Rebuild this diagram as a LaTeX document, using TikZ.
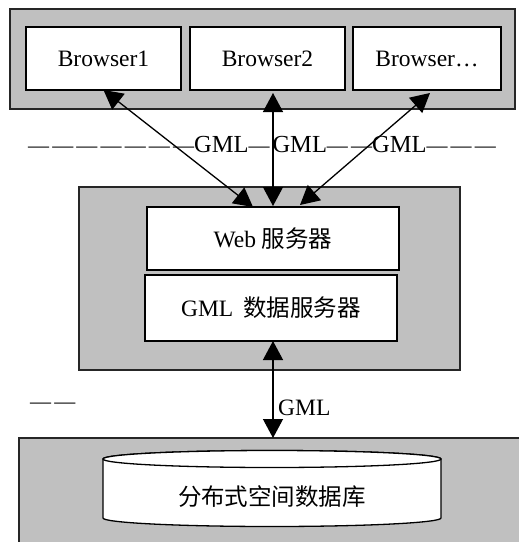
\documentclass[tikz,border=0pt]{standalone}
\usepackage{fontspec}
\setmainfont{Liberation Serif}
\newfontfamily\cjk{Noto Sans CJK SC}
\newfontfamily\dashfont[LetterSpace=15]{Liberation Serif}
\newcommand\dsh[1]{{\dashfont\fontsize{21}{27}\selectfont #1}}
\newcommand\gmlw{{\fontsize{24.5}{27}\selectfont GML}}
\usetikzlibrary{arrows.meta,calc}
\definecolor{boxgray}{HTML}{C0C0C0}
\begin{document}
\begin{tikzpicture}[x=1pt,y=-1pt,
  graybox/.style={draw=black!85, fill=boxgray, line width=1.5pt, inner sep=0pt, outer sep=0pt},
  whitebox/.style={draw=black, fill=white, line width=1.5pt, inner sep=0pt, outer sep=0pt, font=\fontsize{23.5}{27}\selectfont},
  link/.style={line width=1.3pt, {Triangle[length=19pt,width=20pt]}-{Triangle[length=19pt,width=20pt]}},
  lbl/.style={font=\fontsize{23.5}{27}\selectfont, inner sep=0pt}]
\useasboundingbox (0,0) rectangle (519,542);
\clip (0,0) rectangle (519,542);
% top tier
\node[graybox, minimum width=505pt, minimum height=100pt] (top) at (262.5,59) {};
\node[whitebox, minimum width=155pt, minimum height=63pt] (b1) at (103.5,58.5) {Browser1};
\node[whitebox, minimum width=155pt, minimum height=63pt] (b2) at (267.5,58.5) {Browser2};
\node[whitebox, minimum width=148pt, minimum height=63pt] (b3) at (427,58.5) {Browser…};
% middle tier
\node[graybox, minimum width=381pt, minimum height=183pt] (mid) at (269.5,278.5) {};
\node[whitebox, minimum width=252pt, minimum height=63pt] (web) at (273,238.5) {Web {\cjk 服务器}};
\node[whitebox, minimum width=252pt, minimum height=66pt] (gml) at (271,308) {GML\hspace{10pt}{\cjk 数据服务器}};
% bottom tier
\node[graybox, anchor=north west, minimum width=540pt, minimum height=130pt] (bot) at (19,438) {};
\draw[fill=white, line width=1.3pt] (103,459) -- (103,518) arc[start angle=180, end angle=360, x radius=169pt, y radius=8.5pt] -- (441,459) arc[start angle=0, end angle=180, x radius=169pt, y radius=8.5pt] -- cycle;
\draw[fill=white, line width=1.3pt] (272,459) ellipse[x radius=169pt, y radius=8.5pt];
\node[lbl, font=\fontsize{23.5}{27}\selectfont\cjk] (db) at (272,497) {分布式空间数据库};
% texts
\node[lbl, anchor=west] (gmlline) at (28,145) {\dsh{———————}\gmlw\dsh{—}\hspace{3pt}\gmlw\dsh{——}\gmlw\dsh{———}};
\node[lbl, anchor=west] (dd) at (30,406) {\dsh{——}};
% connectors
\draw[link] (b1.south) -- ($(web.north)+(-20,0)$);
\draw[link, shorten <=3pt, shorten >=1pt] (web.north |- b2.south) -- (web.north);
\draw[link] ($(b3.south)+(3,3)$) -- ($(web.north)+(27,-2)$);
\draw[link] (web.north |- gml.south) -- (web.north |- bot.north);
\node[lbl, anchor=west] (glab) at (278,408) {GML};
\end{tikzpicture}
\end{document}
